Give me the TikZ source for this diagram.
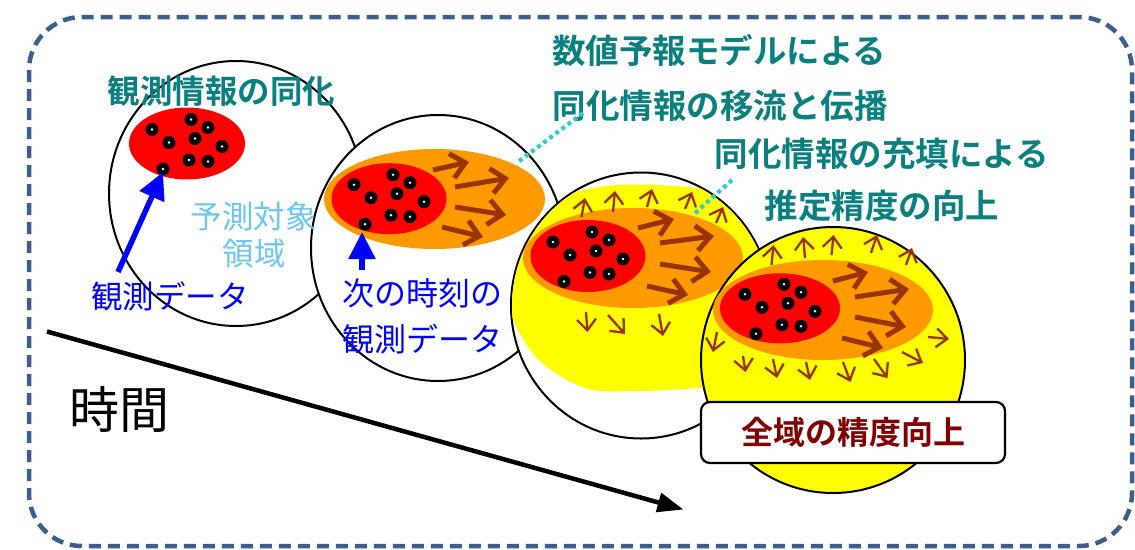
\documentclass[tikz,border=0pt]{standalone}
\usepackage{fontspec}
\newfontfamily\jp{Noto Sans CJK JP}[BoldFont={* Bold}]
\usetikzlibrary{arrows.meta}
\definecolor{bordc}{HTML}{3B5E8C}
\definecolor{tealc}{HTML}{0A7F7F}
\definecolor{lbluec}{HTML}{6DC5F1}
\definecolor{brownc}{HTML}{993300}
\definecolor{orangec}{HTML}{FF9900}
\definecolor{redc}{HTML}{FF0000}
\definecolor{yellowc}{HTML}{FFFF00}
\definecolor{dotlc}{HTML}{33CCCC}
\definecolor{darkredc}{HTML}{800000}
\newcommand{\obsdots}[2]{%
  \foreach \dx/\dy in {-35/-14,4/-24,21/-16,-18/-1,8/-5,35/3,2/16.5,21/18,-24/25.5}{%
    \fill[black] ({#1+\dx},{#2+\dy}) circle[radius=6.5pt];
    \fill[white] ({#1+\dx},{#2+\dy}) circle[radius=1.4pt];}}
\tikzset{
  region/.style={draw=black, line width=2pt, fill=white},
  bigarr/.style={brownc, line width=5pt, -{Straight Barb[length=14pt,width=25pt]}},
  smallarr/.style={brownc, line width=2.3pt, -{Straight Barb[length=11pt,width=19pt]}},
  bluearr/.style={blue, line width=5.5pt, -{Triangle[length=27pt,width=26pt]}},
  timearr/.style={black, line width=4.5pt, -{Triangle[length=26pt,width=19pt]}},
  dotline/.style={dotlc, line width=4.2pt, dash pattern=on 4pt off 3.6pt},
  tealtxt/.style={inner sep=0pt, anchor=base, text=tealc, font=\jp\bfseries\fontsize{33.5}{40}\selectfont},
  bluetxt/.style={inner sep=0pt, anchor=base, text=blue, font=\jp\fontsize{32}{38}\selectfont},
  lbtxt/.style={inner sep=0pt, anchor=base, text=lbluec, font=\jp\fontsize{31.5}{38}\selectfont},
  resultbox/.style={draw=black, line width=2.2pt, fill=white, rounded corners=9pt,
    minimum width=304pt, minimum height=61pt, inner sep=0pt,
    text=darkredc, font=\jp\bfseries\fontsize{32}{38}\selectfont}
}
\begin{document}
\begin{tikzpicture}[x=1pt,y=-1pt]
\useasboundingbox (0,0) rectangle (1135,549);
% frame
\draw[bordc, line width=4.5pt, dash pattern=on 12pt off 7pt, rounded corners=53pt] (29,17) rectangle (1132,546);
% region 1
\draw[region] (236,193.5) ellipse[x radius=127pt, y radius=132.5pt];
\fill[redc] (187,143.5) ellipse[x radius=58pt, y radius=36pt];
\obsdots{187}{143.5}
% region 2
\draw[region] (438,248) ellipse[x radius=127pt, y radius=133pt];
\fill[orangec] (434.5,199) ellipse[x radius=110.5pt, y radius=50pt];
\fill[redc] (389,198.7) ellipse[x radius=57.5pt, y radius=35.5pt];
\obsdots{389}{198.7}
\draw[bigarr] (433,170) -- (469,162);
\draw[bigarr] (455,187) -- (509,178);
\draw[bigarr] (455,207) -- (506,215);
\draw[bigarr] (442,227) -- (483,237);
% region 3
\draw[region] (641,305.5) ellipse[x radius=130pt, y radius=133pt];
\begin{scope}
  \clip (641,305.5) ellipse[x radius=129pt, y radius=132pt];
  \fill[yellowc] plot[smooth cycle, tension=0.55] coordinates {(565,195) (617,185) (687,187) (745,198) (790,240) (790,385) (703,388) (640,391) (585,388) (535,356) (506,300) (508,250) (538,213)};
\end{scope}
\fill[orangec] (633,258) ellipse[x radius=110pt, y radius=50pt];
\fill[redc] (588,256) ellipse[x radius=57.5pt, y radius=36pt];
\obsdots{588}{256}
\draw[bigarr] (638,228) -- (674,219);
\draw[bigarr] (660,243) -- (714,236);
\draw[bigarr] (660,264) -- (711,272);
\draw[bigarr] (647,286) -- (688,295);
\foreach \ax/\ay/\bx/\by in {581.5/217/585/198, 613/212/615/191, 647/207/652/189, 685/209/692/192, 716/223/723/207,
  586/312/587.5/332, 608/315/625/334, 659/314/663/336}
  \draw[smallarr] (\ax,\ay) -- (\bx,\by);
% region 4
\draw[region, fill=yellowc] (833,360) ellipse[x radius=132pt, y radius=133pt];
\fill[orangec] (823,310) ellipse[x radius=110pt, y radius=50pt];
\fill[redc] (780,308.3) ellipse[x radius=60pt, y radius=35pt];
\obsdots{780}{308.3}
\draw[bigarr] (833,281) -- (868,272);
\draw[bigarr] (855,297) -- (909,289);
\draw[bigarr] (855,317) -- (906,327);
\draw[bigarr] (842,338) -- (883,348);
\foreach \ax/\ay/\bx/\by in {771.5/265/773.5/245, 805/258/803.3/237, 831.5/255/833.5/235, 871/253/877/235, 906/265/912/248,
  928/337/949/339, 902/352/923/363,
  717/332/713/352, 743/356/745.5/372, 773/359/777/378, 806/362/810/380, 843/362/850.5/382, 874/359/887.5/378}
  \draw[smallarr] (\ax,\ay) -- (\bx,\by);
% result box
\node[resultbox] (result) at (853,432.5) {全域の精度向上};
% texts
\node[tealtxt, font=\jp\bfseries\fontsize{32.5}{39}\selectfont] (assim) at (221.5,103) {観測情報の同化};
\node[lbtxt] (target1) at (253.5,228) {予測対象};
\node[lbtxt] (target2) at (254,265) {領域};
\node[bluetxt, font=\jp\fontsize{31.5}{38}\selectfont] (obs1) at (170,308) {観測データ};
\node[bluetxt] (next1) at (422.5,305) {次の時刻の};
\node[bluetxt] (next2) at (422.5,351) {観測データ};
\node[tealtxt] (model1) at (719,63) {数値予報モデルによる};
\node[tealtxt] (model2) at (720,118) {同化情報の移流と伝播};
\node[tealtxt] (fill1) at (881.5,166) {同化情報の充填による};
\node[tealtxt] (fill2) at (882,218) {推定精度の向上};
\node[inner sep=0pt, anchor=base, font=\jp\fontsize{50}{60}\selectfont] (time) at (119,428) {時間};
% blue arrows
\coordinate (obs1top) at (118,272);
\coordinate (tip1) at (163,172);
\draw[bluearr] (obs1top) -- (tip1);
\coordinate (next1top) at (362,270);
\coordinate (tip2) at (362,232);
\draw[bluearr] (next1top) -- (tip2);
% dotted leaders
\coordinate (lead1a) at (583,113);
\coordinate (lead1b) at (518,162);
\draw[dotline] (lead1a) -- (lead1b);
\coordinate (lead2a) at (732,180);
\coordinate (lead2b) at (693,215);
\draw[dotline] (lead2a) -- (lead2b);
% time arrow
\coordinate (tstart) at (47,331.5);
\coordinate (tend) at (683.5,509.5);
\draw[timearr] (tstart) -- (tend);
\end{tikzpicture}
\end{document}
